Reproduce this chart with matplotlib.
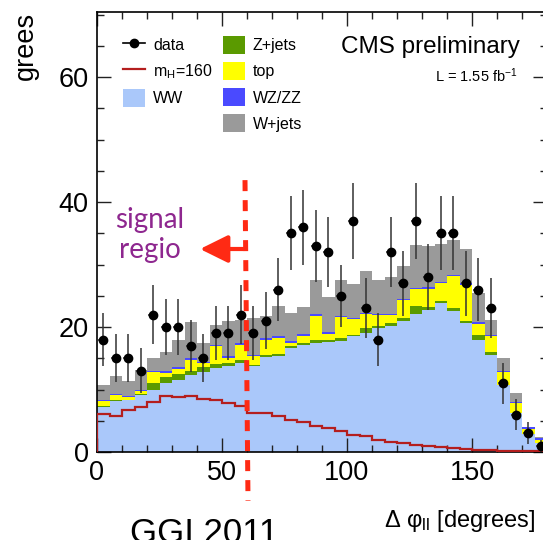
import numpy as np
import matplotlib as mpl
mpl.use('Agg')
import matplotlib.pyplot as plt
from matplotlib.lines import Line2D
from matplotlib.patches import Patch
from matplotlib.ticker import MultipleLocator

plt.rcParams['font.family'] = ['Liberation Sans', 'DejaVu Sans']
plt.rcParams['mathtext.fontset'] = 'custom'
plt.rcParams['mathtext.rm'] = 'Liberation Sans'
plt.rcParams['mathtext.it'] = 'Liberation Sans:italic'

# ------------------------------------------------------------------
# Data: 36 bins of 5 degrees in delta phi_ll
# ------------------------------------------------------------------
edges = np.arange(0, 185, 5)

ww = [7.25, 8.2, 8.3, 9.1, 10.0, 11.1, 11.5, 12.4, 12.8, 13.5, 13.8, 14.2,
      13.7, 15.2, 15.3, 16.6, 17.1, 17.5, 17.6, 17.8, 18.5, 19.1, 19.8, 20.1,
      20.9, 22.1, 22.7, 23.9, 22.6, 20.6, 18.0, 15.6, 10.7, 6.2, 2.9, 1.4]
zjets = [0.1, 0.1, 0.1, 0.15, 1.1, 0.95, 1.0, 0.6, 0.8, 0.6, 0.5, 0.5,
         0.3, 0.35, 0.4, 0.4, 0.4, 0.4, 0.4, 0.4, 0.3, 0.7, 0.4, 0.6,
         0.6, 1.3, 0.5, 0.3, 0.5, 0.35, 0.8, 0.4, 0.05, 0.05, 0.05, 0.05]
top = [0.8, 0.75, 0.35, 0.45, 1.65, 0.6, 0.8, 1.8, 0.6, 2.85, 0.75, 2.45,
       1.35, 2.45, 2.55, 0.5, 1.1, 3.9, 0.95, 3.35, 2.45, 2.25, 1.7, 1.15,
       2.75, 2.65, 2.9, 2.8, 5.05, 5.8, 1.7, 2.55, 2.0, 1.55, 0.75, 0.5]
wzzz = [0.25] * 36
wjets = [2.4, 2.8, 2.3, 3.15, 2.0, 3.15, 4.35, 5.75, 3.05, 3.1, 5.7, 3.7,
         5.9, 3.55, 4.9, 4.45, 4.3, 5.5, 5.6, 5.8, 5.35, 6.7, 5.35, 5.95,
         5.3, 6.8, 6.65, 6.05, 5.5, 5.4, 4.75, 2.3, 2.0, 1.45, 0.1, 0.15]
signal = [6.1, 5.8, 6.8, 7.25, 8.05, 9.0, 8.85, 9.0, 8.5, 8.3, 7.85, 7.35,
          6.3, 6.2, 5.75, 5.1, 4.8, 4.15, 3.8, 3.4, 2.65, 2.5, 2.0, 1.55,
          1.5, 1.1, 1.0, 0.8, 0.6, 0.5, 0.4, 0.3, 0.2, 0.15, 0.1, 0.1]
data = [18, 15, 15, 13, 22, 20, 20, 17, 15, 19, 19, 22,
        19, 21, 26, 35, 36, 33, 32, 25, 37, 23, 18, 32,
        27, 37, 28, 35, 35, 27, 26, 23, 11, 6, 3, 1]

components = [("WW", ww, "#aac8fa"),
              ("Z+jets", zjets, "#5a9a00"),
              ("top", top, "#ffff00"),
              ("WZ/ZZ", wzzz, "#4a4aff"),
              ("W+jets", wjets, "#9a9a9a")]

# ------------------------------------------------------------------
# Figure
# ------------------------------------------------------------------
W, H = 543, 540
fig = plt.figure(figsize=(W / 100, H / 100), dpi=100)
ax = fig.add_axes([97 / W, 88 / H, 450 / W, 440 / H])

base = np.zeros(36)
for name, vals, col in components:
    upper = base + np.array(vals)
    ax.stairs(upper, edges, baseline=base, fill=True, color=col, lw=0, zorder=1)
    base = upper

ax.stairs(signal, edges, baseline=0, color="#b41e1e", lw=1.6, zorder=3)

centers = 0.5 * (edges[:-1] + edges[1:])
d = np.array(data, dtype=float)
ax.errorbar(centers, d, yerr=np.sqrt(d), xerr=2.0, fmt='o', color='black',
            ms=6, ecolor='#333333', elinewidth=1.1, capsize=0, zorder=5)

ax.set_xlim(0, 180)
ax.set_ylim(0, 70.4)
ax.xaxis.set_major_locator(MultipleLocator(50))
ax.xaxis.set_minor_locator(MultipleLocator(10))
ax.yaxis.set_major_locator(MultipleLocator(20))
ax.yaxis.set_minor_locator(MultipleLocator(5))
ax.tick_params(which='both', direction='in', top=True, right=True,
               labelsize=19.5, width=1.0, color='#222222')
ax.tick_params(which='major', length=10, pad=6)
ax.tick_params(which='minor', length=5)
for sp in ax.spines.values():
    sp.set_linewidth(1.2)

# signal region marker
ax.plot([59.2, 60.4], [43.5, -7.8], color="#ff2a14", lw=3.6,
        ls=(0, (2.2, 1.8)), solid_capstyle='butt', clip_on=False, zorder=6)
ax.annotate('', xy=(200, H - 249), xytext=(243, H - 249),
            xycoords='figure pixels', textcoords='figure pixels',
            arrowprops=dict(arrowstyle='-|>,head_length=0.85,head_width=0.42',
                            color="#ff2a14", lw=3, mutation_scale=20,
                            shrinkA=0, shrinkB=0))
fig.text(150 / W, 1 - 235 / H, "signal\nregio", color="#8e278f",
         fontsize=20, family=['Lato', 'DejaVu Sans'], ha='center', va='center',
         multialignment='center', linespacing=1.15)

# legends
leg_kw = dict(frameon=False, fontsize=11.5, borderpad=0, borderaxespad=0,
              handlelength=1.375, handleheight=1.375, labelspacing=0.5,
              handletextpad=0.5, loc='upper left')
h1 = [Line2D([], [], color='black', marker='o', ms=6, lw=1.2),
      Line2D([], [], color="#b41e1e", lw=1.6),
      Patch(facecolor="#aac8fa", edgecolor='none')]
l1 = ax.legend(h1, ["data", r"m$_\mathregular{H}$=160", "WW"],
               bbox_to_anchor=(0.058, 0.946), **leg_kw)
ax.add_artist(l1)
h2 = [Patch(facecolor=c, edgecolor='none') for _, _, c in components[1:]]
ax.legend(h2, [n for n, _, _ in components[1:]],
          bbox_to_anchor=(0.28, 0.946), **leg_kw)

ax.text(0.94, 0.92, "CMS preliminary", transform=ax.transAxes,
        ha='right', va='center', fontsize=17.5)
ax.text(0.935, 0.855, r"L = 1.55 fb$^\mathregular{-1}$", transform=ax.transAxes,
        ha='right', va='center', fontsize=10.5)

# axis labels (cropped in the original)
fig.text(26 / W, 1 - 12 / H, "grees", rotation=90, ha='center', va='top',
         fontsize=19.5)
fig.text(384 / W, 13 / H, r"Δ φ$_\mathregular{ll}$ [degrees]",
         ha='left', va='baseline', fontsize=17)
fig.text(130 / W, -3 / H, "GGI 2011", ha='left', va='baseline', fontsize=25)

fig.savefig("out.png", dpi=100, facecolor='white')
